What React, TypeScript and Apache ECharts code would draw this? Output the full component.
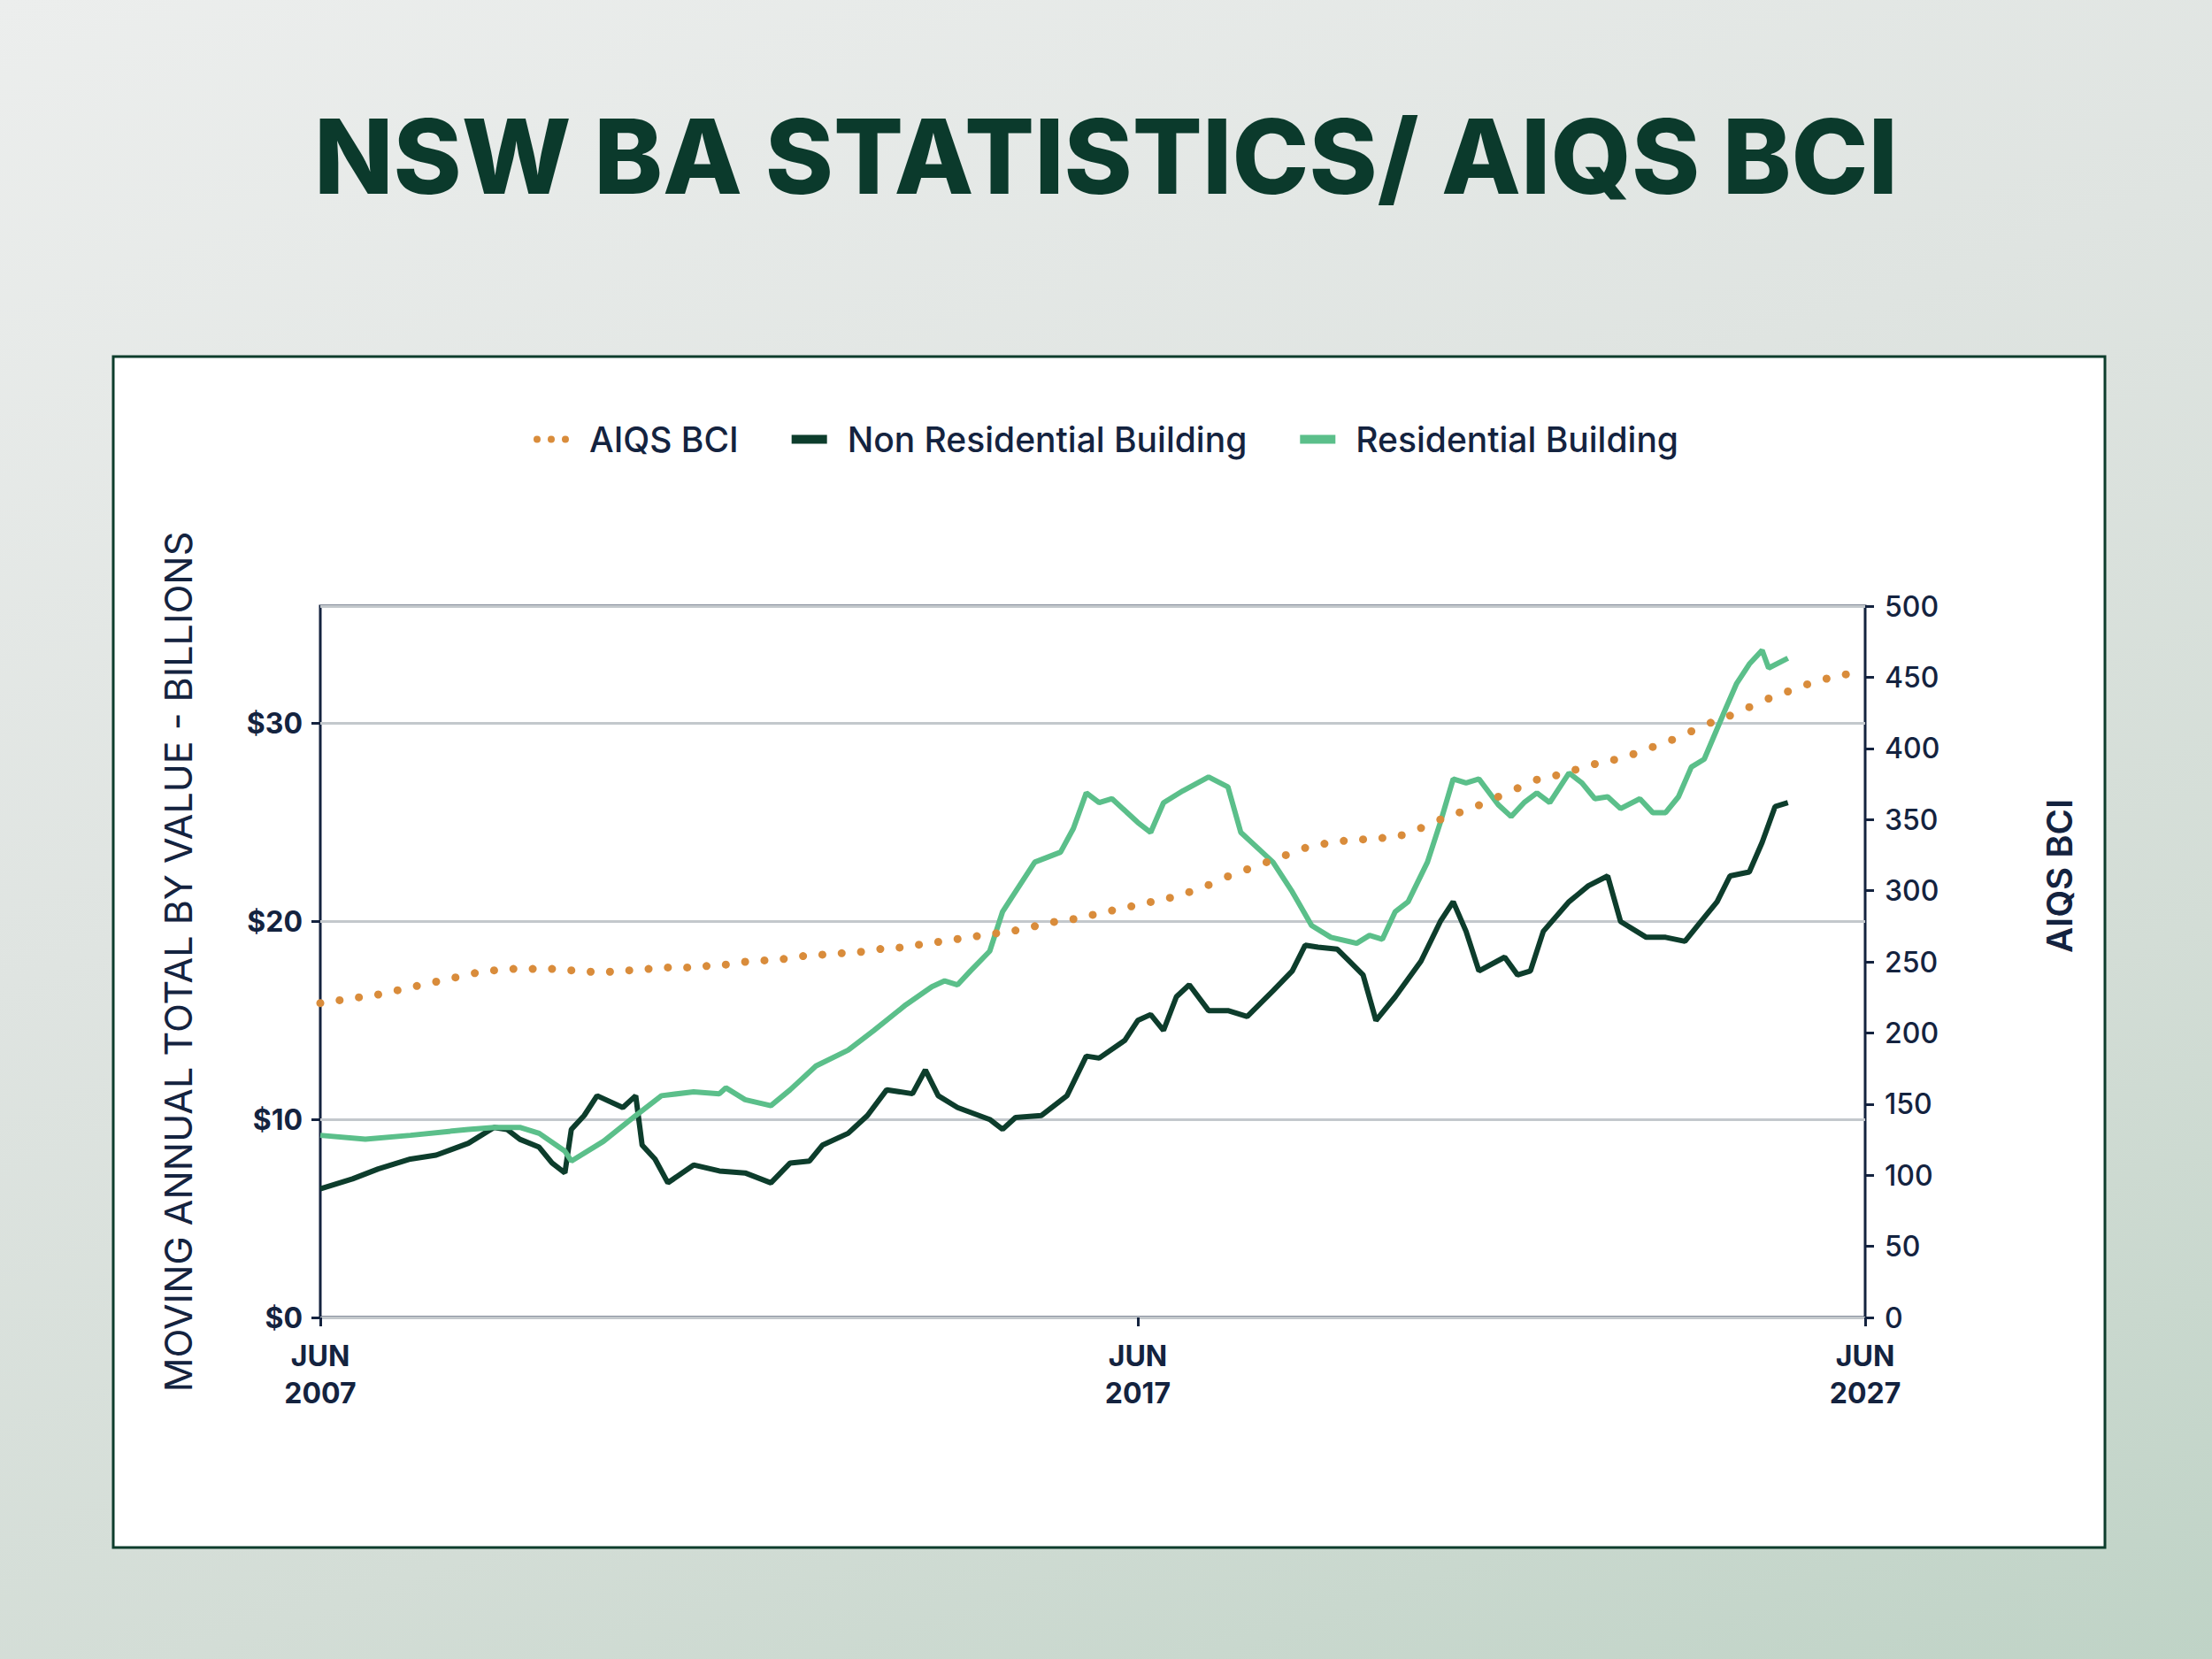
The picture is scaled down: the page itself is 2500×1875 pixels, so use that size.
import React, { useEffect, useRef } from 'react';
import * as echarts from 'echarts';

// months since Jun 2007
const resMonths = [0,7,14,20,23,27,31,34,38,39,44,49,53,58,62,63,66,70,73,77,82,86,91,95,97,99,101,104,106,108,111,115,117,119,121,123,127,129,131,134,138,141,143,148,151,154,157,161,163,165,167,169,172,174,176,178,180,183,185,187,189,191,194,196,198,200,202,205,207,209,211,213,215,218,220,222,224,225,228];
const resValues = [9.2,9.0,9.2,9.4,9.5,9.6,9.6,9.3,8.4,7.9,8.9,10.2,11.2,11.4,11.3,11.6,11.0,10.7,11.5,12.7,13.5,14.5,15.8,16.7,17.0,16.8,17.5,18.5,20.5,21.5,23.0,23.5,24.7,26.5,26.0,26.2,25.0,24.5,26.0,26.6,27.3,26.8,24.5,23.0,21.5,19.8,19.2,18.9,19.3,19.1,20.5,21.0,23.0,25.0,27.2,27.0,27.2,25.9,25.3,26.0,26.5,26.0,27.5,27.0,26.2,26.3,25.7,26.2,25.5,25.5,26.3,27.8,28.2,30.5,32.0,33.0,33.7,32.8,33.3];

const nonResMonths = [0,5,9,14,18,23,25,27,29,31,34,36,38,39,41,43,47,49,50,52,54,58,62,66,70,73,76,78,82,85,88,92,94,96,99,104,106,108,112,116,119,121,125,127,129,131,133,135,138,141,144,148,151,153,155,158,162,164,167,171,174,176,178,180,184,186,188,190,194,197,200,202,206,209,212,214,217,219,222,224,226,228];
const nonResValues = [6.5,7.0,7.5,8.0,8.2,8.8,9.2,9.6,9.5,9.0,8.6,7.8,7.3,9.5,10.2,11.2,10.6,11.2,8.7,8.0,6.8,7.7,7.4,7.3,6.8,7.8,7.9,8.7,9.3,10.2,11.5,11.3,12.5,11.2,10.6,10.0,9.5,10.1,10.2,11.2,13.2,13.1,14.0,15.0,15.3,14.5,16.2,16.8,15.5,15.5,15.2,16.5,17.5,18.8,18.7,18.6,17.3,15.0,16.2,18.0,20.0,21.0,19.5,17.5,18.2,17.3,17.5,19.5,21.0,21.8,22.3,20.0,19.2,19.2,19.0,19.8,21.0,22.3,22.5,24.0,25.8,26.0];

// quarterly, Jun 2007 onwards
const bciValues = [221,223,225,227,230,233,236,239,242,244,245,245,245,244,243,243,244,245,246,246,247,248,250,251,252,254,255,256,257,259,260,262,264,266,268,270,272,275,278,280,283,286,289,292,295,299,304,310,315,320,325,330,333,335,336,337,339,344,350,355,360,366,372,378,381,385,389,392,396,401,406,412,418,423,429,435,440,445,449,452];

const leftTicks: Record<number, string> = { 0: '$0', 10: '$10', 20: '$20', 30: '$30' };
const xTickValues = [0, 127, 240];
const xTickLabels: Record<number, string> = { 0: 'JUN\n2007', 127: 'JUN\n2017', 240: 'JUN\n2027' };

const ink = '#14233f';
const font = 'Inter';

export default function App() {
  const ref = useRef<HTMLDivElement>(null);
  useEffect(() => {
    if (!ref.current) return;
    document.body.style.margin = '0';
    const chart = echarts.init(ref.current, null, { renderer: 'svg' });
    const zip = (xs: number[], ys: number[]) => xs.map((x, i) => [x, ys[i]]);
    chart.setOption({
      animation: false,
      textStyle: { fontFamily: font },
      graphic: [
        { type: 'rect', z: -10, shape: { x: 128, y: 403, width: 2251, height: 1346 }, style: { fill: '#fff', stroke: '#0d3d2c', lineWidth: 3 } },
        { type: 'text', left: 'center', top: 118, style: { text: 'NSW BA STATISTICS/ AIQS BCI', fill: '#0b3a2c', font: `800 117px ${font}` } },
        { type: 'text', x: 2327, y: 990, rotation: Math.PI / 2, style: { text: 'AIQS BCI', fill: ink, font: `600 40px ${font}`, align: 'center', verticalAlign: 'middle' } },
      ],
      legend: {
        top: 472, left: 'center', itemGap: 60, itemWidth: 40, itemHeight: 10,
        textStyle: { color: ink, fontSize: 39, fontWeight: 500, fontFamily: font, padding: [0, 0, 0, 18] },
        data: [
          { name: 'AIQS BCI', icon: 'path://M0,4a4,4 0 1,0 8,0a4,4 0 1,0 -8,0M16,4a4,4 0 1,0 8,0a4,4 0 1,0 -8,0M32,4a4,4 0 1,0 8,0a4,4 0 1,0 -8,0', itemStyle: { color: '#d98c3b' } },
          { name: 'Non Residential Building', icon: 'rect' },
          { name: 'Residential Building', icon: 'rect' },
        ],
      },
      grid: { left: 362, right: 392, top: 685, bottom: 1875 - 1489, show: true, borderColor: '#14233f', borderWidth: 3, backgroundColor: 'transparent' },
      xAxis: {
        type: 'value', min: 0, max: 240,
        axisLine: { show: false },
        axisTick: { show: true, length: 10, customValues: xTickValues, lineStyle: { color: ink, width: 3 } },
        splitLine: { show: false },
        axisLabel: { color: ink, fontSize: 32, fontWeight: 700, lineHeight: 42, margin: 22, customValues: xTickValues, formatter: (v: number) => xTickLabels[v] ?? '' },
      },
      yAxis: [
        {
          type: 'value', min: 0, max: 35.93, interval: 10, position: 'left',
          name: 'MOVING ANNUAL TOTAL BY VALUE - BILLIONS', nameLocation: 'middle', nameGap: 140,
          nameTextStyle: { color: ink, fontSize: 43, fontFamily: font },
          axisLine: { show: false }, axisTick: { show: true, length: 10, lineStyle: { color: ink, width: 3 } },
          splitLine: { lineStyle: { color: '#c3c8cc', width: 3 } },
          axisLabel: { color: ink, fontSize: 32, fontWeight: 700, margin: 20, showMaxLabel: false, formatter: (v: number) => leftTicks[v] ?? '' },
        },
        {
          type: 'value', min: 0, max: 500, interval: 50, position: 'right',
          axisLine: { show: false }, axisTick: { show: true, length: 10, lineStyle: { color: ink, width: 3 } },
          splitLine: { show: false },
          axisLabel: { color: ink, fontSize: 32, fontWeight: 500, margin: 22 },
        },
      ],
      series: [
        {
          name: 'AIQS BCI', type: 'line', yAxisIndex: 1,
          data: bciValues.map((v, i) => [i * 3, v]),
          showSymbol: true, symbol: 'circle', symbolSize: 9,
          itemStyle: { color: '#d98c3b' }, lineStyle: { opacity: 0 },
        },
        {
          name: 'Non Residential Building', type: 'line', data: zip(nonResMonths, nonResValues),
          showSymbol: false, lineStyle: { width: 6, color: '#0d3d2c' }, itemStyle: { color: '#0d3d2c' },
        },
        {
          name: 'Residential Building', type: 'line', data: zip(resMonths, resValues),
          showSymbol: false, lineStyle: { width: 6, color: '#5bbf8a' }, itemStyle: { color: '#5bbf8a' },
        },
      ],
    });
    return () => chart.dispose();
  }, []);
  return (
    <div style={{ background: 'linear-gradient(160deg,#eceeed 0%,#dfe4e1 40%,#d3ddd6 70%,#bfd3c6 100%)' }}>
      <div ref={ref} style={{ width: 2500, height: 1875 }} />
    </div>
  );
}
